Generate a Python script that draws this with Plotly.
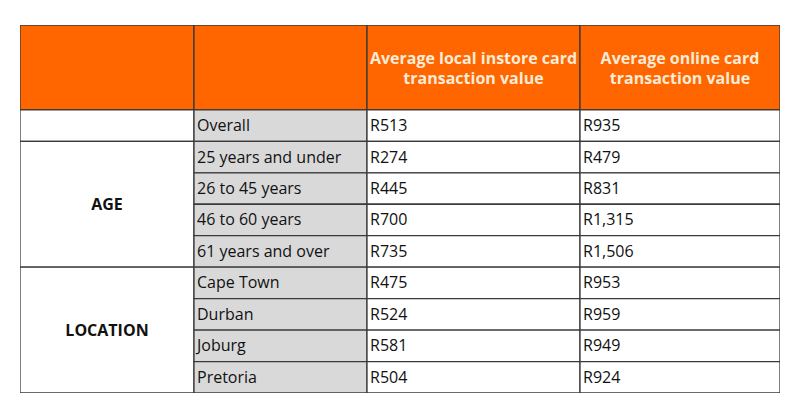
import plotly.graph_objects as go

# data
headers = ["", "", "Average local instore card<br>transaction value", "Average online card<br>transaction value"]
groups = ["", "AGE", "LOCATION"]
group_sizes = [1, 4, 4]
categories = ["Overall", "25 years and under", "26 to 45 years", "46 to 60 years", "61 years and over",
              "Cape Town", "Durban", "Joburg", "Pretoria"]
instore_values = [513, 274, 445, 700, 735, 475, 524, 581, 504]
online_values = [935, 479, 831, 1315, 1506, 953, 959, 949, 924]

# layout constants
col_w = [174, 173, 213, 200]
header_h = 85
row_h = 31.5
pad = 3
nudge = 1.5  # text sits a bit low in the reference cells
ORANGE = "#FF6600"
GREY = "#D9D9D9"
LINE = "#3a3a3a"
FONT = "Open Sans"

col_x = [0]
for w in col_w:
    col_x.append(col_x[-1] + w)
n_rows = len(categories)
total_h = header_h + n_rows * row_h


def row_top(i):
    return header_h + i * row_h


shapes = []


def cell(x0, x1, y0, y1, fill):
    shapes.append(dict(type="rect", xref="x", yref="y", x0=x0, x1=x1, y0=y0, y1=y1,
                       fillcolor=fill, line=dict(color=LINE, width=1.3), layer="below"))


# header cells
for c in range(len(col_w)):
    cell(col_x[c], col_x[c + 1], 0, header_h, ORANGE)

# merged group cells in first column
start = 0
for g, size in zip(groups, group_sizes):
    cell(col_x[0], col_x[1], row_top(start), row_top(start + size), "white")
    start += size

# body cells
for i in range(n_rows):
    cell(col_x[1], col_x[2], row_top(i), row_top(i + 1), GREY)
    cell(col_x[2], col_x[3], row_top(i), row_top(i + 1), "white")
    cell(col_x[3], col_x[4], row_top(i), row_top(i + 1), "white")

fig = go.Figure()

# header text
fig.add_trace(go.Scatter(
    x=[(col_x[c] + col_x[c + 1]) / 2 for c in range(len(col_w))],
    y=[header_h / 2 + 2.5] * len(col_w),
    text=["<b>" + h + "</b>" if h else "" for h in headers],
    mode="text", textposition="middle center",
    textfont=dict(family=FONT, size=16, color="#FCEBD6"),
    hoverinfo="skip"))

# group labels
gx, gy = [], []
start = 0
for g, size in zip(groups, group_sizes):
    gx.append((col_x[0] + col_x[1]) / 2)
    gy.append((row_top(start) + row_top(start + size)) / 2 + nudge)
    start += size
fig.add_trace(go.Scatter(
    x=gx, y=gy, text=["<b>" + g + "</b>" if g else "" for g in groups],
    mode="text", textposition="middle center",
    textfont=dict(family=FONT, size=16, color="#111111"),
    hoverinfo="skip"))

# body text
row_mid = [row_top(i) + row_h / 2 + nudge for i in range(n_rows)]
for c, texts in [(1, categories),
                 (2, ["R{:,}".format(v) for v in instore_values]),
                 (3, ["R{:,}".format(v) for v in online_values])]:
    fig.add_trace(go.Scatter(
        x=[col_x[c] + pad] * n_rows, y=row_mid, text=texts,
        mode="text", textposition="middle right",
        textfont=dict(family=FONT, size=16, color="#111111"),
        hoverinfo="skip"))

# page body has an 8px margin, so the figure is shifted to compensate
fig.update_layout(
    width=784, height=404,
    margin=dict(l=12, r=12, t=17, b=18.5),
    paper_bgcolor="white", plot_bgcolor="white",
    showlegend=False,
    shapes=shapes,
    xaxis=dict(range=[0, col_x[-1]], visible=False, fixedrange=True),
    yaxis=dict(range=[total_h, 0], visible=False, fixedrange=True),
)

fig.write_html("out.html")
